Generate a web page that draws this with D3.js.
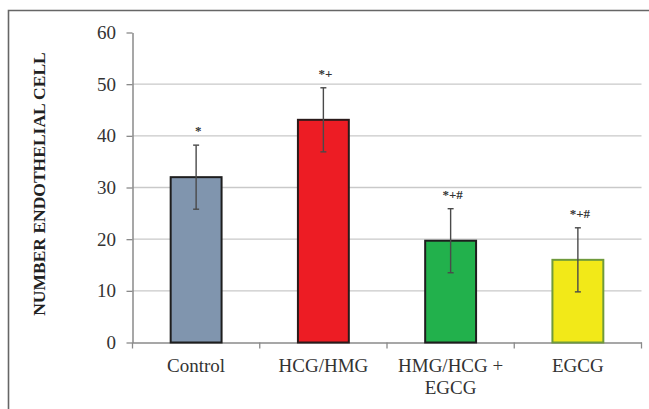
<!DOCTYPE html>
<html>
<head>
<meta charset="utf-8">
<script src="https://cdn.jsdelivr.net/npm/d3@7"></script>
<style>
  body { margin: 0; background: #fff; }
  svg { display: block; }
</style>
</head>
<body>
<div id="chart"></div>
<script>
// values
const categories = ["Control", "HCG/HMG", "HMG/HCG + EGCG", "EGCG"];
const means = [32, 43.1, 19.7, 16];
const errors = [6.2, 6.2, 6.2, 6.2];
const marks = ["*", "*+", "*+#", "*+#"];
const yTicks = [0, 10, 20, 30, 40, 50, 60];

const fills = ["#8095ae", "#ed1c24", "#22b14c", "#f2e918"];
const strokes = ["#1e1e1e", "#2a1a1a", "#1e1e1e", "#6f9a3c"];

const W = 649, H = 409;
const plot = { left: 132.5, right: 641.5, top: 32.5, bottom: 342.5 };

const svg = d3.select("#chart")
    .append("svg")
    .attr("width", W)
    .attr("height", H);

// frame: top and left edges only
svg.append("path")
    .attr("d", `M8.5,${H} V10.5 H${W}`)
    .attr("fill", "none")
    .attr("stroke", "#666")
    .attr("stroke-width", 1.6);

const x = d3.scaleBand()
    .domain(categories)
    .range([plot.left, plot.right])
    .padding(0);

const y = d3.scaleLinear()
    .domain([0, 60])
    .range([plot.bottom, plot.top]);

// gridlines (none at the top)
svg.append("g")
    .selectAll("line")
    .data(yTicks.filter(t => t > 0 && t < 60))
    .join("line")
    .attr("x1", plot.left)
    .attr("x2", plot.right)
    .attr("y1", d => y(d))
    .attr("y2", d => y(d))
    .attr("stroke", "#c9c9c9")
    .attr("stroke-width", 1.3);

// y axis
const yAxis = svg.append("g")
    .attr("transform", `translate(${plot.left},0)`)
    .call(d3.axisLeft(y).tickValues(yTicks).tickSize(6).tickPadding(10.5).tickSizeOuter(0));
yAxis.select(".domain").attr("stroke", "#8a8a8a").attr("stroke-width", 1.5);
yAxis.selectAll(".tick line").attr("stroke", "#8a8a8a").attr("stroke-width", 1.3);
yAxis.selectAll("text")
    .attr("font-family", "'Liberation Serif', 'Times New Roman', serif")
    .attr("font-size", 19)
    .attr("fill", "#333");

// x axis
const xAxis = svg.append("g")
    .attr("transform", `translate(0,${plot.bottom})`)
    .call(d3.axisBottom(x).tickSize(0).tickPadding(16).tickSizeOuter(0));
xAxis.select(".domain").attr("stroke", "#8a8a8a").attr("stroke-width", 1.5);
xAxis.selectAll("text")
    .attr("font-family", "'Liberation Serif', 'Times New Roman', serif")
    .attr("font-size", 19)
    .attr("fill", "#333")
    .each(function(d) {
        const t = d3.select(this);
        if (d.length > 10) {
            const parts = [d.slice(0, d.lastIndexOf(" ")), d.slice(d.lastIndexOf(" ") + 1)];
            t.text(null);
            parts.forEach((p, i) => {
                t.append("tspan")
                    .attr("x", 0)
                    .attr("dy", i === 0 ? "0.71em" : "1.15em")
                    .text(p);
            });
        }
    });

// boundary ticks on the category axis
const bounds = d3.range(categories.length + 1).map(i => plot.left + i * x.step());
svg.append("g")
    .selectAll("line")
    .data(bounds)
    .join("line")
    .attr("x1", d => d)
    .attr("x2", d => d)
    .attr("y1", plot.bottom)
    .attr("y2", plot.bottom + 6)
    .attr("stroke", "#8a8a8a")
    .attr("stroke-width", 1.3);

const data = categories.map((c, i) => ({ cat: c, mean: means[i], err: errors[i], mark: marks[i], i }));
const barW = x.bandwidth() * 0.4;
const cx = d => x(d.cat) + x.bandwidth() / 2;

svg.append("g")
    .selectAll("rect")
    .data(data)
    .join("rect")
    .attr("x", d => cx(d) - barW / 2)
    .attr("y", d => y(d.mean))
    .attr("width", barW)
    .attr("height", d => y(0) - y(d.mean))
    .attr("fill", d => fills[d.i])
    .attr("stroke", d => strokes[d.i])
    .attr("stroke-width", 2);

// error bars
const eb = svg.append("g")
    .attr("stroke", "#4a4a4a")
    .attr("stroke-width", 1.4);
eb.selectAll(".stem")
    .data(data)
    .join("line")
    .attr("x1", cx)
    .attr("x2", cx)
    .attr("y1", d => y(d.mean - d.err))
    .attr("y2", d => y(d.mean + d.err));
eb.selectAll(".cap")
    .data(data.flatMap(d => [{ d, v: d.mean + d.err }, { d, v: d.mean - d.err }]))
    .join("line")
    .attr("x1", e => cx(e.d) - 3)
    .attr("x2", e => cx(e.d) + 3)
    .attr("y1", e => y(e.v))
    .attr("y2", e => y(e.v));

// significance marks
svg.append("g")
    .selectAll("text")
    .data(data)
    .join("text")
    .attr("x", d => cx(d) + 2)
    .attr("y", d => y(d.mean + d.err) - 10)
    .attr("text-anchor", "middle")
    .attr("font-family", "'Liberation Serif', 'Times New Roman', serif")
    .attr("font-size", 13)
    .attr("font-weight", "bold")
    .attr("fill", "#333")
    .text(d => d.mark);

// y axis title
svg.append("text")
    .attr("transform", `translate(45,184) rotate(-90)`)
    .attr("text-anchor", "middle")
    .attr("font-family", "'Liberation Serif', 'Times New Roman', serif")
    .attr("font-size", 17.5)
    .attr("font-weight", "bold")
    .attr("fill", "#222")
    .text("NUMBER ENDOTHELIAL CELL");
</script>
</body>
</html>
